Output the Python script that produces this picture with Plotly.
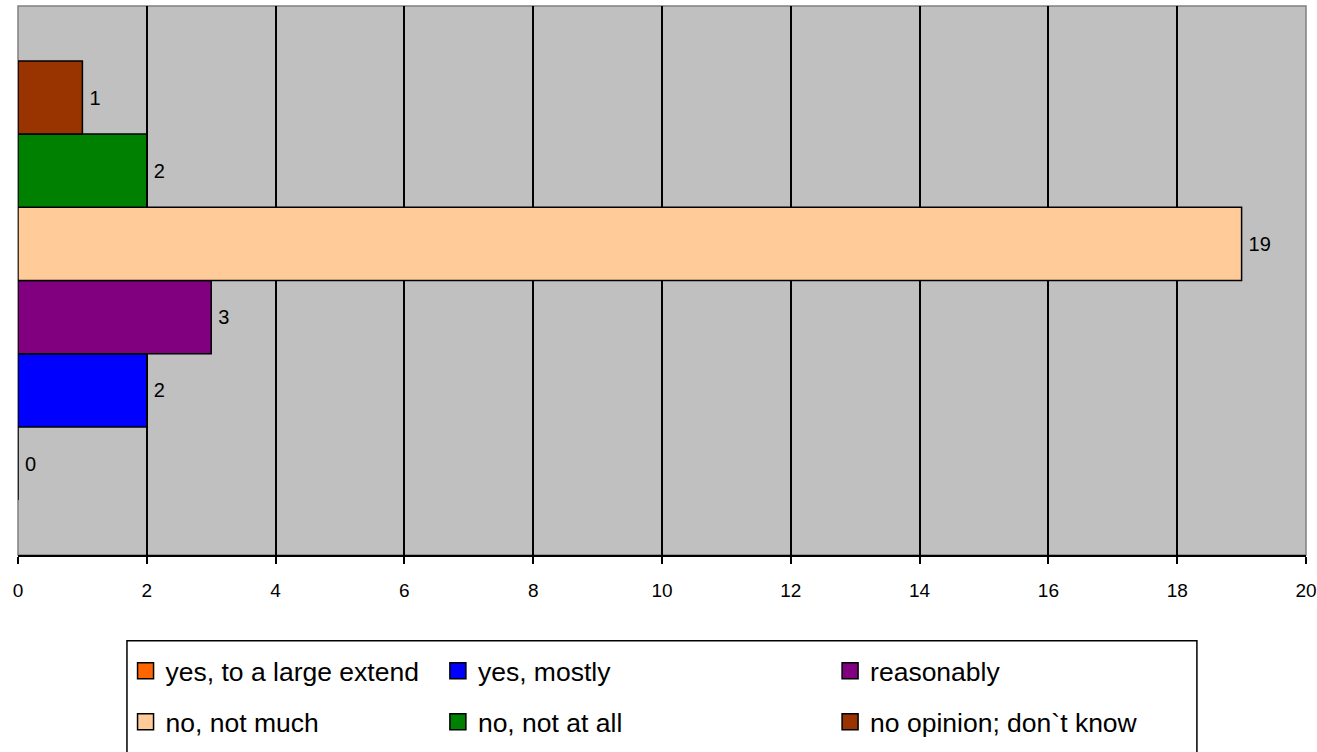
import plotly.graph_objects as go

categories = ["Q"]
answers = ["yes, to a large extend", "yes, mostly", "reasonably",
           "no, not much", "no, not at all", "no opinion; don`t know"]
counts = [0, 2, 3, 19, 2, 1]
colors = ["#FF6600", "#0000FF", "#800080", "#FFCC99", "#008000", "#993300"]
x_ticks = list(range(0, 21, 2))

FONT = "Liberation Sans, Arial, sans-serif"

fig = go.Figure()
for name, value, color in zip(answers, counts, colors):
    fig.add_trace(go.Bar(
        y=categories, x=[value], name=name, orientation="h",
        marker=dict(color=color, line=dict(color="black", width=1.5)),
        text=[str(value)], texttemplate="\u2009%{text}",
        textposition="outside", cliponaxis=False,
        textfont=dict(family=FONT, size=20, color="black"),
        showlegend=False,
    ))

# one small legend per entry, laid out as a 3 x 2 grid like the original
legend_ids = ["legend", "legend2", "legend3", "legend4", "legend5", "legend6"]
for name, color, lg in zip(answers, colors, legend_ids):
    fig.add_trace(go.Scatter(
        x=[None], y=[None], mode="markers", name=name,
        marker=dict(symbol="square", size=16, color=color, line=dict(color="black", width=1.5)),
        legend=lg, showlegend=True,
    ))

col_x = [0.0835, 0.326, 0.6305]
row_y = [-0.1675, -0.2606]
legend_style = dict(
    font=dict(family=FONT, size=26.5, color="black"),
    bgcolor="rgba(0,0,0,0)", borderwidth=0,
    xanchor="left", yanchor="top",
)
legends = {}
for i, lg in enumerate(legend_ids):
    legends[lg] = dict(x=col_x[i % 3], y=row_y[i // 3], **legend_style)

fig.update_layout(
    width=1317, height=752,
    margin=dict(l=18, r=11, t=6, b=195),
    paper_bgcolor="white",
    plot_bgcolor="#C0C0C0",
    font=dict(family=FONT, size=19, color="black"),
    barmode="group", bargap=0.2, bargroupgap=0,
    showlegend=True,
    shapes=[
        dict(type="rect", xref="paper", yref="paper", x0=0, x1=1, y0=0, y1=1,
             line=dict(color="#808080", width=1.5), layer="below"),
        dict(type="rect", xref="paper", yref="paper", x0=0.0846, x1=0.9153,
             y0=-0.156, y1=-0.40, line=dict(color="black", width=1.5)),
    ],
    **legends,
)
fig.update_xaxes(
    range=[0, 20], tickvals=x_ticks, showgrid=True, gridcolor="black", gridwidth=1.5,
    zeroline=False, showline=True, linecolor="black", linewidth=1.5,
    ticks="outside", ticklen=7, tickcolor="black", tickwidth=1.5,
    tickfont=dict(family=FONT, size=19), ticklabelstandoff=10,
    ticklabeloverflow="allow", automargin=False, fixedrange=True,
)
fig.update_yaxes(showticklabels=False, showgrid=False, zeroline=False, showline=False,
                 ticks="", range=[-0.5, 0.5], automargin=False, fixedrange=True)

fig.write_html("out.html", config={"displayModeBar": False},
               post_script="document.body.style.margin = '0';")
